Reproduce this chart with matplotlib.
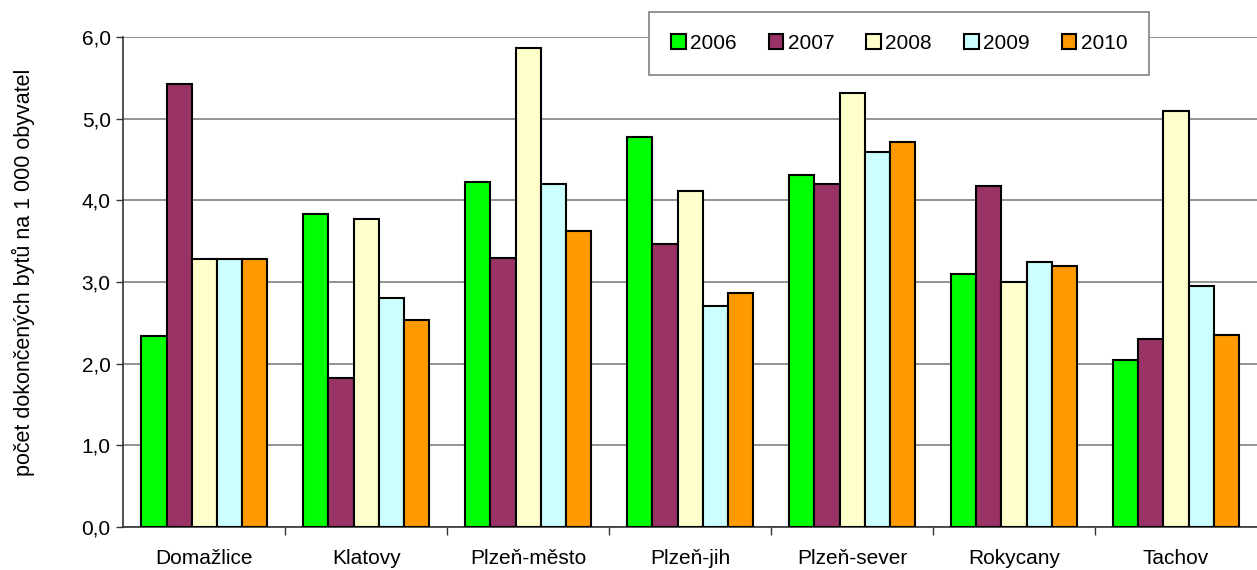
import matplotlib.pyplot as plt
import numpy as np
from matplotlib.ticker import FixedLocator, FuncFormatter

plt.rcParams['font.family'] = ['Liberation Sans', 'DejaVu Sans']

districts = ['Domažlice', 'Klatovy', 'Plzeň-město', 'Plzeň-jih', 'Plzeň-sever', 'Rokycany', 'Tachov']
years = ['2006', '2007', '2008', '2009', '2010']
v2006 = [2.34, 3.83, 4.22, 4.77, 4.31, 3.10, 2.04]
v2007 = [5.42, 1.83, 3.30, 3.47, 4.20, 4.18, 2.30]
v2008 = [3.28, 3.77, 5.87, 4.11, 5.31, 3.00, 5.09]
v2009 = [3.28, 2.81, 4.20, 2.71, 4.59, 3.24, 2.95]
v2010 = [3.28, 2.54, 3.62, 2.86, 4.72, 3.20, 2.35]
colors = ['#00ff00', '#993366', '#ffffcc', '#ccffff', '#ff9900']

series = [v2006, v2007, v2008, v2009, v2010]

fig = plt.figure(figsize=(12.57, 5.70), dpi=100)
ax = fig.add_axes([0.098, 0.0754, 0.902, 0.8596])

x = np.arange(len(districts))
w = 0.155
for i, (vals, c, yr) in enumerate(zip(series, colors, years)):
    ax.bar(x + (i - 2) * w, vals, w, color=c, edgecolor='black', linewidth=1.5,
           label=yr, zorder=3)

ax.set_xlim(-0.5, len(districts) - 0.5)
ax.set_ylim(0, 6)
ax.set_yticks(np.arange(0, 6.01, 1))
ax.yaxis.set_major_formatter(FuncFormatter(lambda v, p: f'{v:.1f}'.replace('.', ',')))
ax.grid(axis='y', color='#808080', linewidth=1.2, zorder=0)

ax.set_xticks(x)
ax.set_xticklabels(districts)
ax.xaxis.set_minor_locator(FixedLocator(np.arange(0.5, len(districts) - 0.5, 1)))
ax.tick_params(axis='x', which='major', length=0, pad=16, labelsize=15)
ax.tick_params(axis='x', which='minor', length=6, width=1, color='#333333', direction='out')
ax.tick_params(axis='y', length=5, width=1, color='#333333', labelsize=15, pad=4)

for s in ['top', 'right']:
    ax.spines[s].set_visible(False)
for s in ['left', 'bottom']:
    ax.spines[s].set_color('#333333')
    ax.spines[s].set_linewidth(1.2)

ax.set_ylabel('počet dokončených bytů na 1 000 obyvatel', fontsize=15.5)
ax.yaxis.set_label_coords(-0.078, 0.52)

leg = ax.legend(loc='upper left', bbox_to_anchor=(0.464, 1.051), ncol=5, fontsize=15,
                frameon=True, fancybox=False, edgecolor='#808080', handlelength=0.7,
                handleheight=0.7, handletextpad=0.2, columnspacing=1.55,
                borderpad=1.05, borderaxespad=0, framealpha=1)
leg.get_frame().set_linewidth(1.2)
leg.set_zorder(5)

fig.savefig('out.png', dpi=100)
